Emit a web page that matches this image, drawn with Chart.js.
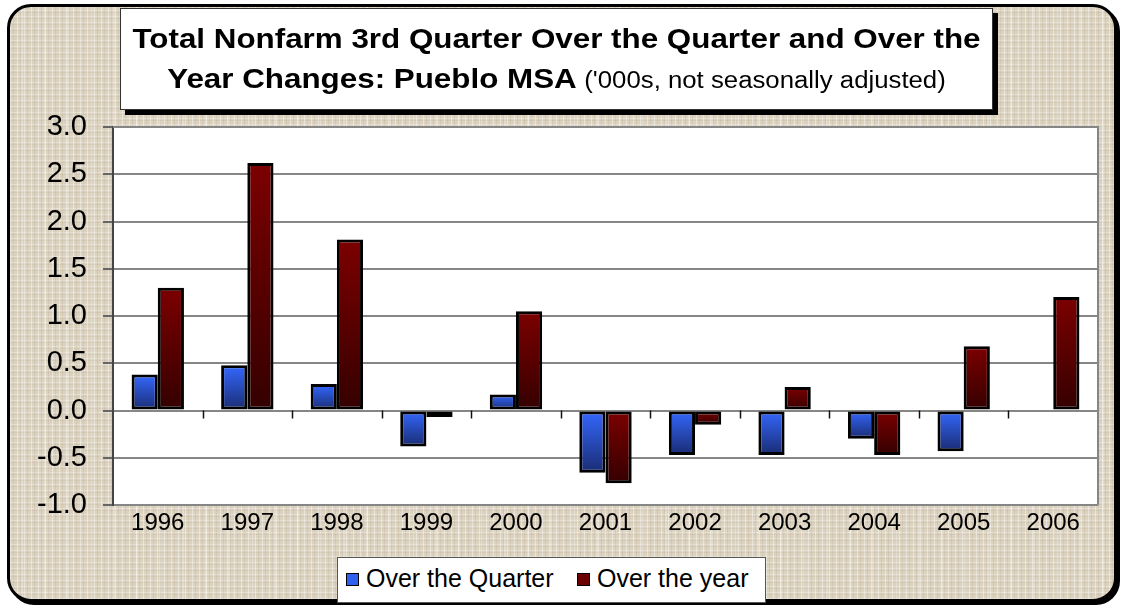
<!DOCTYPE html>
<html>
<head>
<meta charset="utf-8">
<script src="https://cdn.jsdelivr.net/npm/chart.js@4/dist/chart.umd.min.js"></script>
<style>
  html, body { margin: 0; padding: 0; background: #fff; }
  body { width: 1122px; height: 608px; position: relative; overflow: hidden; font-family: "Liberation Sans", Arial, sans-serif; }
  #frame {
    position: absolute; left: 7px; top: 4px; width: 1104px; height: 592px;
    border: 3px solid #000; border-radius: 24px;
    box-shadow: 3px 3px 0 #000;
    background-color: #dbd2bf;
    background-image:
      repeating-linear-gradient(90deg, rgba(255,255,255,0.4) 0 1px, transparent 1px 3px, rgba(120,100,70,0.09) 3px 4px, transparent 4px 7px),
      repeating-linear-gradient(0deg, rgba(255,255,255,0.3) 0 1px, transparent 1px 4px, rgba(120,100,70,0.08) 4px 5px, transparent 5px 6px),
      repeating-linear-gradient(90deg, transparent 0 11px, rgba(255,255,255,0.25) 11px 13px, transparent 13px 23px);
  }
  #chart { position: absolute; left: 0; top: 0; }
  #title {
    position: absolute; left: 120px; top: 8px; width: 871px; height: 100px;
    background: #fff; border: 1px solid #333; box-shadow: 5px 5px 0 #000;
    text-align: center; color: #000;
  }
  #title div { transform: scaleX(1.12); transform-origin: center; white-space: nowrap; }
  #title .l1 { font-weight: bold; font-size: 28px; line-height: 30px; margin-top: 15px; }
  #title .l2 { font-weight: bold; font-size: 28px; line-height: 30px; margin-top: 10px; }
  #title .l2 span { font-weight: normal; font-size: 23px; }
  #legend {
    position: absolute; left: 337px; top: 557px; width: 429px; height: 46px;
    background: #fff; border: 1px solid #555; box-sizing: border-box;
    font-size: 25px; color: #000;
  }
  #legend .item { position: absolute; top: 6px; white-space: nowrap; }
  #legend .sw { display: inline-block; width: 11px; height: 11px; border: 1.5px solid #000; margin-right: 7px; vertical-align: 1px; }
</style>
</head>
<body>
<div id="frame"></div>
<canvas id="chart" width="1122" height="608"></canvas>
<div id="title">
  <div class="l1">Total Nonfarm 3rd Quarter Over the Quarter and Over the</div>
  <div class="l2">Year Changes: Pueblo MSA <span>('000s, not seasonally adjusted)</span></div>
</div>
<div id="legend">
  <div class="item" style="left:8px"><span class="sw" style="background:#3060f0"></span>Over the Quarter</div>
  <div class="item" style="left:239px"><span class="sw" style="background:#6a0000"></span>Over the year</div>
</div>
<script>
// data
const years = ['1996', '1997', '1998', '1999', '2000', '2001', '2002', '2003', '2004', '2005', '2006'];
const overQuarter = [0.38, 0.48, 0.28, -0.38, 0.17, -0.66, -0.47, -0.47, -0.30, -0.43, null];
const overYear = [1.30, 2.62, 1.81, -0.07, 1.05, -0.77, -0.15, 0.25, -0.47, 0.68, 1.20];
const yTicks = [-1.0, -0.5, 0.0, 0.5, 1.0, 1.5, 2.0, 2.5, 3.0];

// vertical gradient per bar, bright at top
function barGradient(topColor, bottomColor) {
    return function(context) {
        const chart = context.chart;
        if (!chart.chartArea || context.raw == null) return topColor;
        const y = chart.scales.y;
        const p1 = y.getPixelForValue(context.raw);
        const p0 = y.getPixelForValue(0);
        const top = Math.min(p0, p1), bot = Math.max(p0, p1);
        if (bot - top < 1) return topColor;
        const g = chart.ctx.createLinearGradient(0, top, 0, bot);
        g.addColorStop(0, topColor);
        g.addColorStop(1, bottomColor);
        return g;
    };
}

// white plot area with grey border, category ticks on the zero line
const plotFrame = {
    id: 'plotFrame',
    beforeDraw(chart) {
        const a = chart.chartArea, c = chart.ctx;
        c.save();
        c.fillStyle = '#fff';
        c.fillRect(a.left, a.top, a.right - a.left, a.bottom - a.top);
        c.restore();
    },
    afterDatasetsDraw(chart) {
        const a = chart.chartArea, c = chart.ctx;
        const y0 = chart.scales.y.getPixelForValue(0);
        const step = (a.right - a.left) / years.length;
        c.save();
        c.strokeStyle = '#868686';
        c.lineWidth = 2;
        c.beginPath();
        c.moveTo(a.left, a.top); c.lineTo(a.right, a.top); c.lineTo(a.right, a.bottom);
        c.stroke();
        c.strokeStyle = '#111';
        c.lineWidth = 1.5;
        for (let i = 1; i < years.length; i++) {
            const x = Math.round(a.left + i * step) + 0.5;
            c.beginPath();
            c.moveTo(x, y0);
            c.lineTo(x, y0 + 8);
            c.stroke();
        }
        c.restore();
    }
};

new Chart(document.getElementById('chart').getContext('2d'), {
    type: 'bar',
    data: {
        labels: years,
        datasets: [
            {
                label: 'Over the Quarter',
                data: overQuarter,
                backgroundColor: barGradient('#3468ff', '#1a2c72'),
                borderColor: '#000',
                borderWidth: 3,
                borderSkipped: false
            },
            {
                label: 'Over the year',
                data: overYear,
                backgroundColor: barGradient('#7c0000', '#340000'),
                borderColor: '#000',
                borderWidth: 3,
                borderSkipped: false
            }
        ]
    },
    options: {
        responsive: false,
        animation: false,
        devicePixelRatio: 1,
        layout: { padding: { top: 127, right: 24, bottom: 63, left: 0 } },
        datasets: { bar: { categoryPercentage: 0.585, barPercentage: 1.0 } },
        plugins: {
            legend: { display: false },
            tooltip: { enabled: false }
        },
        scales: {
            y: {
                min: -1,
                max: 3,
                afterBuildTicks: function(scale) {
                    scale.ticks = yTicks.map(v => ({ value: v }));
                },
                afterFit: function(scale) { scale.width = 113; },
                ticks: {
                    color: '#000',
                    font: { family: '"Liberation Sans", Arial, sans-serif', size: 29 },
                    padding: 16,
                    callback: function(value) { return Number(value).toFixed(1); }
                },
                grid: {
                    color: '#868686',
                    lineWidth: 2,
                    tickLength: 10,
                    tickColor: '#666'
                },
                border: { color: '#444', width: 2 }
            },
            x: {
                afterFit: function(scale) { scale.height = 40; },
                grid: { display: false },
                border: { display: false },
                ticks: {
                    color: '#000',
                    font: { family: '"Liberation Sans", Arial, sans-serif', size: 24 },
                    padding: -4,
                    maxRotation: 0
                }
            }
        }
    },
    plugins: [plotFrame]
});
</script>
</body>
</html>
